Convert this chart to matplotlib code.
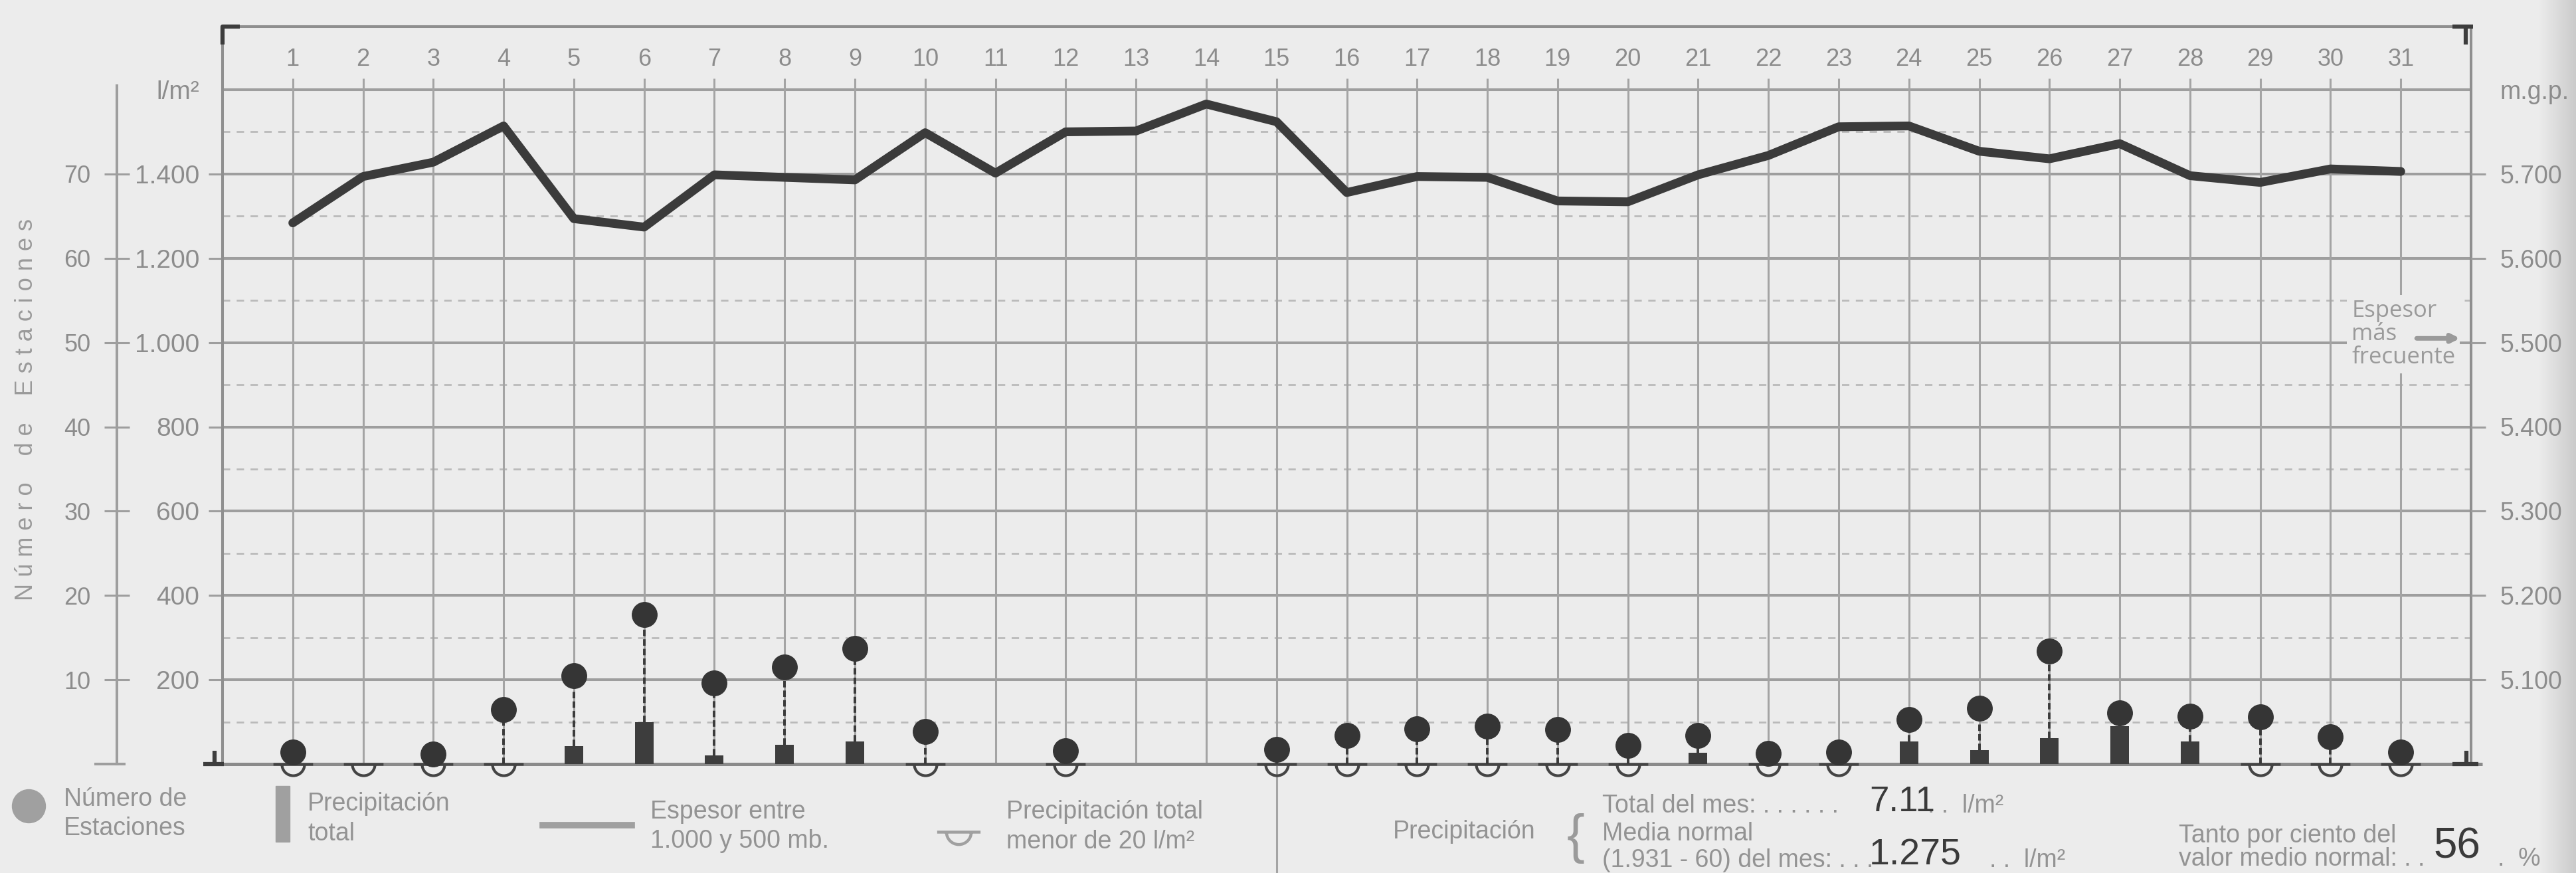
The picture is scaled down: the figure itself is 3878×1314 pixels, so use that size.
import numpy as np
import matplotlib
matplotlib.use("Agg")
import matplotlib.pyplot as plt
from matplotlib.path import Path
from matplotlib.lines import Line2D
from matplotlib.patches import Rectangle
from matplotlib.colors import LinearSegmentedColormap

W, H = 3878, 1314

# Datos (mes de 31 dias)
dias = list(range(1, 32))
espesor = [5642, 5697, 5714, 5757, 5647, 5637, 5699, 5696, 5693, 5749,
           5701, 5750, 5751, 5783, 5762, 5678, 5697, 5696, 5668, 5667,
           5699, 5722, 5756, 5757, 5727, 5718, 5736, 5698, 5690, 5706, 5703]
estaciones = [1.4, np.nan, 1.2, 6.5, 10.5, 17.7, 9.6, 11.5, 13.7, 3.9,
              np.nan, 1.6, np.nan, np.nan, 1.7, 3.4, 4.2, 4.5, 4.1, 2.2,
              3.4, 1.3, 1.4, 5.3, 6.6, 13.4, 6.1, 5.7, 5.6, 3.2, 1.4]
dias_precip = [5, 6, 7, 8, 9, 21, 24, 25, 26, 27, 28]
precip_total = [42, 99, 20, 46, 54, 27, 53, 33, 62, 90, 54]
dias_menor20 = [1, 2, 3, 4, 10, 12, 15, 16, 17, 18, 19, 20, 22, 23, 29, 30, 31]

ticks_lm2 = [200, 400, 600, 800, 1000, 1200, 1400, 1600]
ticks_est = [10, 20, 30, 40, 50, 60, 70]
ticks_mgp = [5100, 5200, 5300, 5400, 5500, 5600, 5700, 5800]

total_mes = "7.11"
media_normal = "1.275"
tanto_por_ciento = "56"

LM2_POR_EST = 20      # 10 estaciones <-> 200 l/m2
LM2_POR_MGP = 2       # 100 m.g.p. <-> 200 l/m2

plt.rcParams["font.family"] = ["Liberation Sans", "DejaVu Sans"]

fondo = "#ececec"
gris = "#9e9e9e"
gris_txt = "#8c8c8c"
oscuro = "#3b3b3b"


def fmt(v):
    return f"{v:,}".replace(",", ".")


def fx(px):
    return px / W


def fy(py):
    return 1 - py / H


fig = plt.figure(figsize=(W / 100, H / 100), dpi=100, facecolor=fondo)

# zona del grafico
x0, x1 = 335, 3720
y_base, y_top = 1150, 40
px_unidad = (1150 - 135) / 1600
tope = (y_base - y_top) / px_unidad
pos = [fx(x0), fy(y_base), (x1 - x0) / W, (y_base - y_top) / H]

ax = fig.add_axes(pos)
ax.set_facecolor("none")
ax.set_xlim(0, 32)
ax.set_ylim(0, tope)

ax_mgp = ax.twinx()
ax_mgp.set_ylim(5000, 5000 + tope / LM2_POR_MGP)

ax_st = fig.add_axes(pos, sharex=ax)
ax_st.patch.set_visible(False)
ax_st.set_ylim(0, tope / LM2_POR_EST)

# rejilla
for v in ticks_lm2:
    ax.hlines(v, 0, 32, color=gris, lw=2.9, zorder=1)
for v in range(100, 1600, 200):
    ax.hlines(v, 0, 32, color="#bababa", lw=2.0, linestyles=(0, (4, 3.5)), zorder=1)
ax.vlines(dias, 0, 1627, color="#a4a4a4", lw=2.2, zorder=1)
ax.vlines(15, -270, 0, color="#a4a4a4", lw=2.2, zorder=1, clip_on=False)

# marco
for s in ["left", "right", "top"]:
    ax.spines[s].set_color("#8f8f8f")
    ax.spines[s].set_linewidth(2.9)
ax.spines["bottom"].set_visible(False)
ax.hlines(0, -0.27, 32.16, color="#8a8a8a", lw=3.6, clip_on=False, zorder=2)

marca = dict(color="#3d3d3d", lw=4.5, clip_on=False, zorder=6, solid_capstyle="butt")
ax.plot([0, 0, 0.25], [tope - 42, tope, tope], **marca)
ax.plot([31.74, 32.03], [tope, tope], **marca)
ax.plot([31.92, 31.92], [tope, tope - 42], **marca)
ax.plot([-0.27, 0.02], [0, 0], **marca)
ax.plot([-0.11, -0.11], [0, 32], **marca)
ax.plot([31.74, 32.1], [0, 0], **marca)
ax.plot([31.93, 31.93], [0, 32], **marca)

# eje l/m2
ax.set_xticks([])
ax.set_yticks(ticks_lm2)
ax.set_yticklabels([fmt(v) for v in ticks_lm2[:-1]] + ["l/m²"])
ax.tick_params(axis="y", direction="out", length=15, width=2.2, color=gris,
               pad=10, labelsize=28, labelcolor=gris_txt)
ax.yaxis.get_major_ticks()[-1].tick1line.set_visible(False)

# eje m.g.p.
for s in ax_mgp.spines.values():
    s.set_visible(False)
ax_mgp.set_yticks(ticks_mgp)
ax_mgp.set_yticklabels([fmt(v) for v in ticks_mgp[:-1]] + ["m.g.p."])
ax_mgp.tick_params(axis="y", direction="out", length=16, width=2.2, color=gris,
                   pad=15, labelsize=27, labelcolor=gris_txt)
ax_mgp.yaxis.get_major_ticks()[-1].tick2line.set_visible(False)

# eje numero de estaciones
for s in ["right", "top", "bottom"]:
    ax_st.spines[s].set_visible(False)
ax_st.spines["left"].set_position(("outward", 114.5))
ax_st.spines["left"].set_bounds(0, 80.5)
ax_st.spines["left"].set_color(gris)
ax_st.spines["left"].set_linewidth(2.9)
ax_st.xaxis.set_visible(False)
ax_st.set_yticks(ticks_est)
ax_st.tick_params(axis="y", direction="inout", length=27, width=2.2, color=gris,
                  pad=15, labelsize=26, labelcolor=gris_txt)
ax.hlines(0, -1.82, -1.38, color=gris, lw=2.9, clip_on=False)

# dias
for d in dias:
    ax.text(d, 1672, str(d), ha="center", va="center", fontsize=26, color=gris_txt)

# espesor 1000-500 mb
ax_mgp.plot(dias, espesor, color=oscuro, lw=9.5, solid_joinstyle="round",
            solid_capstyle="round", zorder=4)

# precipitacion total
ax.bar(dias_precip, precip_total, width=0.265, color="#3d3d3d", zorder=3)

# precipitacion menor de 20 l/m2
arco = Path.arc(180, 360)
raya = Path([(-1.75, 0), (1.75, 0)], [Path.MOVETO, Path.LINETO])
cuenco = Path.make_compound_path(raya, arco)
ax.plot(dias_menor20, [0] * len(dias_menor20), ls="none", marker=cuenco, ms=43,
        mfc="none", mec="#444444", mew=3, clip_on=False, zorder=3)

# numero de estaciones: tallo y punto
base = {d: p for d, p in zip(dias_precip, precip_total)}
tallo_x, tallo_lo, tallo_hi = [], [], []
for d, e in zip(dias, estaciones):
    if np.isnan(e):
        continue
    tallo_x.append(d)
    tallo_lo.append(base.get(d, 0) / LM2_POR_EST)
    tallo_hi.append(e)
ax_st.vlines(tallo_x, tallo_lo, tallo_hi, color="#3a3a3a", lw=2.8,
             linestyles=(0, (2.5, 1.2)), zorder=4)
ax_st.plot(dias, estaciones, ls="none", marker="o", ms=27, color="#353535",
           zorder=5, clip_on=False)

# espesor mas frecuente
ax.text(30.3, 1020, "Espesor\nmás\nfrecuente", family=["Open Sans", "DejaVu Sans"],
        fontsize=25, color="#9a9a9a", ha="left", va="center", linespacing=1.05,
        bbox=dict(boxstyle="square,pad=0.2", fc=fondo, ec="none"), zorder=6)
ax.annotate("", xy=(31.87, 1010), xytext=(31.2, 1010),
            arrowprops=dict(arrowstyle="-|>,head_length=0.7,head_width=0.35",
                            color="#9a9a9a", lw=5), zorder=7)

# titulo vertical
fig.text(fx(40), fy(617), "N ú m e r o    d e    E s t a c i o n e s", rotation=90,
         ha="center", va="center", fontsize=26, color="#9a9a9a")

# leyenda
gl = "#a0a0a0"
fig.add_artist(Line2D([fx(43)], [fy(1213)], marker="o", ms=36, color=gl,
                      transform=fig.transFigure))
fig.add_artist(Rectangle((fx(415), fy(1267)), 21 / W, 84 / H, color=gl,
                         transform=fig.transFigure))
fig.add_artist(Line2D([fx(817), fx(951)], [fy(1242), fy(1242)], lw=7, color=gl,
                      transform=fig.transFigure))
fig.add_artist(Line2D([fx(1443)], [fy(1252)], ls="none", marker=cuenco, ms=47,
                      mfc="none", mec=gl, mew=3.2, transform=fig.transFigure))

txt = dict(fontsize=27, color="#939393", ha="left", va="center")
for s, px, py in [("Número de", 96, 1203), ("Estaciones", 96, 1247),
                  ("Precipitación", 463, 1210), ("total", 463, 1255),
                  ("Espesor entre", 979, 1222), ("1.000 y 500 mb.", 979, 1266),
                  ("Precipitación total", 1515, 1222), ("menor de 20 l/m²", 1515, 1267),
                  ("Precipitación", 2097, 1252),
                  ("Total del mes: . . . . . .", 2412, 1213),
                  (". .  l/m²", 2902, 1213),
                  ("Media normal", 2412, 1255),
                  ("(1.931 - 60) del mes: . . .", 2412, 1295),
                  (". .  l/m²", 2995, 1295),
                  ("Tanto por ciento del", 3280, 1258),
                  ("valor medio normal: . .", 3280, 1293),
                  (".  %", 3760, 1293)]:
    fig.text(fx(px), fy(py), s, **txt)
fig.text(fx(2372), fy(1262), "{", fontsize=58, color="#9a9a9a", ha="center", va="center")

mano = dict(color="#3a3a3a", ha="left", va="center")
fig.text(fx(2814), fy(1207), total_mes, fontsize=38, **mano)
fig.text(fx(2814), fy(1287), media_normal, fontsize=40, **mano)
fig.text(fx(3663), fy(1274), tanto_por_ciento, fontsize=46, **mano)

# sombra del escaneo en el borde derecho
sombra = fig.add_axes([fx(3822), 0, 1 - fx(3822), 1])
sombra.set_zorder(-1)
sombra.imshow(np.linspace(0, 1, 64)[None, :], aspect="auto",
              cmap=LinearSegmentedColormap.from_list("s", [fondo, "#cbcbcb"]))
sombra.axis("off")

fig.savefig("out.png", dpi=100, facecolor=fondo)
